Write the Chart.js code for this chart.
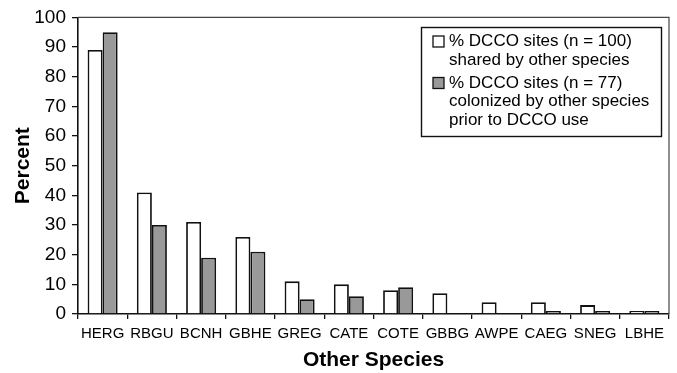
<!DOCTYPE html>
<html>
<head>
<meta charset="utf-8">
<script src="https://cdn.jsdelivr.net/npm/chart.js@4/dist/chart.umd.min.js"></script>
<style>
  html, body { margin: 0; padding: 0; background: #ffffff; }
  #wrap { width: 677px; height: 373px; position: relative; }
</style>
</head>
<body>
<div id="wrap"><canvas id="chart"></canvas></div>
<script>
// Species codes along the x axis
const species = ["HERG", "RBGU", "BCNH", "GBHE", "GREG", "CATE", "COTE", "GBBG", "AWPE", "CAEG", "SNEG", "LBHE"];
// % of DCCO sites (n = 100) shared by other species
const sharedPct = [89, 41, 31, 26, 11, 10, 8, 7, 4, 4, 3, 1];
// % of DCCO sites (n = 77) colonized by other species before DCCO use
const colonizedPct = [95, 30, 19, 21, 5, 6, 9, 0, 0, 1, 1, 1];
// Legend lines for each series
const sharedLegend = ["% DCCO sites (n = 100)", "shared by other species"];
const colonizedLegend = ["% DCCO sites (n = 77)", "colonized by other species", "prior to DCCO use"];
// Y axis ticks
const yTicks = [0, 10, 20, 30, 40, 50, 60, 70, 80, 90, 100];

const FONT = "'Liberation Sans', Arial, Helvetica, sans-serif";
const INK = "#111111";
const GRAY = "#999999";

// Frame around the plot area and boxed two-series legend
const framePlugin = {
  id: "frameAndLegend",
  afterDraw(chart) {
    const { ctx, chartArea: a } = chart;
    ctx.save();
    ctx.strokeStyle = "#444";
    ctx.lineWidth = 1.2;
    ctx.beginPath();
    ctx.moveTo(a.left, a.top);
    ctx.lineTo(a.right, a.top);
    ctx.lineTo(a.right, a.bottom);
    ctx.stroke();

    // legend box
    const bx = 421, by = 27, bw = 240, bh = 109;
    ctx.fillStyle = "#ffffff";
    ctx.fillRect(bx, by, bw, bh);
    ctx.strokeStyle = INK;
    ctx.lineWidth = 1.4;
    ctx.strokeRect(bx + 0.5, by + 0.5, bw, bh);

    ctx.font = "17px " + FONT;
    ctx.textBaseline = "middle";
    ctx.textAlign = "left";
    const tx = 449, lh = 18.5;
    const items = [
      { lines: sharedLegend, fill: "#ffffff", y0: 41.5 },
      { lines: colonizedLegend, fill: GRAY, y0: 83 }
    ];
    items.forEach(it => {
      ctx.fillStyle = it.fill;
      ctx.fillRect(433, it.y0 - 5.5, 11, 11);
      ctx.strokeStyle = INK;
      ctx.lineWidth = 1.3;
      ctx.strokeRect(433, it.y0 - 5.5, 11, 11);
      ctx.fillStyle = "#000";
      it.lines.forEach((t, i) => ctx.fillText(t, tx, it.y0 + i * lh));
    });
    ctx.restore();
  }
};

new Chart(document.getElementById("chart"), {
  type: "bar",
  data: {
    labels: species,
    datasets: [
      {
        label: sharedLegend.join(" "),
        data: sharedPct,
        backgroundColor: "#ffffff",
        borderColor: INK,
        borderWidth: 1.8,
        borderSkipped: "bottom",
        categoryPercentage: 0.61,
        barPercentage: 1.0
      },
      {
        label: colonizedLegend.join(" "),
        data: colonizedPct,
        backgroundColor: GRAY,
        borderColor: INK,
        borderWidth: 1.8,
        borderSkipped: "bottom",
        categoryPercentage: 0.61,
        barPercentage: 1.0
      }
    ]
  },
  options: {
    responsive: true,
    maintainAspectRatio: false,
    animation: false,
    layout: { padding: { top: 17, right: 8, bottom: 0, left: 0 } },
    plugins: {
      legend: { display: false },
      tooltip: { enabled: false }
    },
    scales: {
      x: {
        grid: { display: true, drawOnChartArea: false, drawTicks: true, tickLength: 5, color: INK, lineWidth: 1.3, offset: true },
        border: { display: true, color: INK, width: 1.6 },
        ticks: { color: "#000", font: { family: FONT, size: 15 }, padding: 6, maxRotation: 0, autoSkip: false },
        title: { display: true, text: "Other Species", color: "#000", font: { family: FONT, size: 21, weight: "bold" }, padding: { top: 0, bottom: 0 } },
        afterFit(scale) { scale.height = 59; }
      },
      y: {
        min: 0,
        max: 100,
        afterBuildTicks(scale) { scale.ticks = yTicks.map(v => ({ value: v })); },
        grid: { display: true, drawOnChartArea: false, drawTicks: true, tickLength: 6, color: INK, lineWidth: 1.3 },
        border: { display: true, color: INK, width: 1.6 },
        ticks: { color: "#000", font: { family: FONT, size: 19 }, padding: 6 },
        title: { display: true, text: "Percent", color: "#000", font: { family: FONT, size: 21, weight: "bold" }, padding: { top: 11, bottom: 0 } },
        afterFit(scale) { scale.width = 78; }
      }
    }
  },
  plugins: [framePlugin]
});
</script>
</body>
</html>
